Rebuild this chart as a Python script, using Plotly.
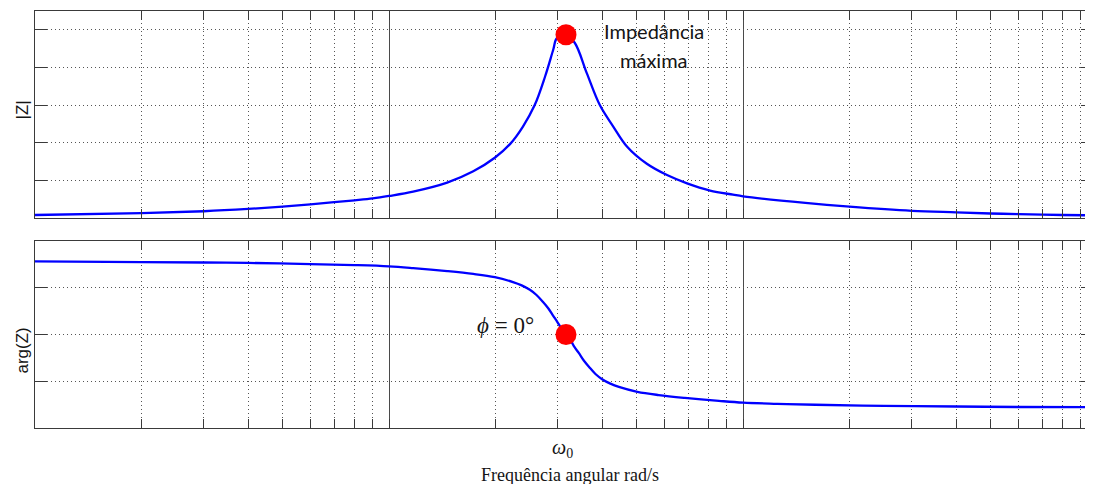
import math
import plotly.graph_objects as go
from plotly.subplots import make_subplots

# ---- data ----
omega_mag = [0.1, 0.2, 0.3, 0.4, 0.5, 0.6, 0.7, 0.8, 0.9, 1.0, 1.17, 1.46, 1.73, 1.99, 2.20, 2.39,
             2.58, 2.76, 2.91, 2.98, 3.162, 3.35, 3.62, 3.94, 4.30, 4.70, 5.35, 6.10, 6.95, 8.07,
             9.37, 10, 15, 20, 30, 40, 50, 60, 80, 100]
mag = [0.08, 0.13, 0.18, 0.24, 0.30, 0.36, 0.42, 0.47, 0.52, 0.585, 0.70, 0.94, 1.24, 1.60, 1.97, 2.43,
       3.0, 3.76, 4.47, 4.78, 4.87, 4.65, 3.85, 3.0, 2.43, 1.90, 1.44, 1.14, 0.92, 0.73,
       0.62, 0.575, 0.40, 0.30, 0.19, 0.15, 0.12, 0.105, 0.08, 0.07]

omega_phase = [0.1, 0.2, 0.3, 0.4, 0.6, 0.8, 1.0, 1.17, 1.46, 1.73, 1.99, 2.24, 2.37, 2.50, 2.61, 2.72,
               2.82, 2.91, 2.99, 3.06, 3.162, 3.27, 3.34, 3.44, 3.55, 3.68, 3.83, 4.0, 4.22, 4.46,
               5.03, 5.78, 6.85, 8.55, 10, 12.5, 16, 25, 40, 60, 100]
phase_deg = [70.3, 69.7, 69.3, 68.9, 67.8, 66.8, 65.6, 63.9, 61.0, 58.3, 55.2, 50.5, 47.3, 43.0, 38.0, 31.5,
             25.0, 18.0, 12.0, 6.5, 0.0, -6.5, -12.0, -18.0, -25.0, -31.5, -38.0, -43.0, -47.3, -50.5,
             -55.2, -58.3, -61.0, -63.9, -65.6, -66.7, -67.6, -68.7, -69.3, -69.8, -70.0]

omega0 = 3.162
mag_max = 4.87
phase_at_omega0 = 0.0

major_x = [0.1, 1, 10, 100]
minor_x = [m * d for d in (0.1, 1, 10) for m in range(2, 10)]
mag_ticks = [0, 1, 2, 3, 4, 5]
phase_ticks = [-45, 0, 45]

# ---- figure ----
fig = make_subplots(rows=2, cols=1, shared_xaxes=False, vertical_spacing=0.05)

line_style = dict(color="#0000FF", width=2.3, shape="spline", smoothing=1.0)
fig.add_trace(go.Scatter(x=omega_mag, y=mag, mode="lines", line=line_style, hoverinfo="skip"), row=1, col=1)
fig.add_trace(go.Scatter(x=[omega0], y=[mag_max], mode="markers",
                         marker=dict(color="#FF0000", size=21), hoverinfo="skip"), row=1, col=1)
fig.add_trace(go.Scatter(x=omega_phase, y=phase_deg, mode="lines", line=line_style, hoverinfo="skip"), row=2, col=1)
fig.add_trace(go.Scatter(x=[omega0], y=[phase_at_omega0], mode="markers",
                         marker=dict(color="#FF0000", size=21), hoverinfo="skip"), row=2, col=1)

axis_col = "#3a3a3a"
grid_col = "#555555"
dots = "1px,3px"
xr = [-1, 2 - 4 / 354]

xcommon = dict(type="log", range=xr, tickvals=major_x, showticklabels=False,
               ticks="inside", ticklen=9, tickcolor=axis_col, showgrid=True,
               gridcolor="#4a4a4a", gridwidth=1, showline=True, linecolor=axis_col,
               linewidth=1, mirror="ticks", zeroline=False,
               minor=dict(tickvals=minor_x, ticks="inside", ticklen=9, tickcolor=axis_col,
                          showgrid=True, gridcolor=grid_col, griddash=dots, gridwidth=1))
fig.update_xaxes(**xcommon)
fig.update_yaxes(showticklabels=False, ticks="inside", ticklen=12, tickcolor=axis_col,
                 showgrid=True, gridcolor=grid_col, griddash=dots, gridwidth=1,
                 showline=True, linecolor=axis_col, linewidth=1, mirror="ticks", zeroline=False)
fig.update_yaxes(range=[0, 5.5], tickvals=mag_ticks, row=1, col=1)
fig.update_yaxes(range=[-90, 90], tickvals=phase_ticks, row=2, col=1)

# page body adds an 8px offset, so the figure is 8px smaller
W, H = 1085, 476
ml, mr, mt, mb = 27, 0, 3, 56
ph = H - mt - mb
fig.update_layout(
    width=W, height=H, margin=dict(l=ml, r=mr, t=mt, b=mb),
    paper_bgcolor="white", plot_bgcolor="white", showlegend=False,
    yaxis=dict(domain=[(H - mb - 210) / ph, 1.0]),
    yaxis2=dict(domain=[0.0, (H - mb - 233) / ph]),
)

txt = "#151515"
lx0 = math.log10(omega0)
fig.add_annotation(x=lx0, y=mag_max, xref="x", yref="y", text="Impedância",
                   showarrow=False, xshift=88, yshift=4, xanchor="center", yanchor="middle",
                   font=dict(family="Lato", size=20, color=txt))
fig.add_annotation(x=lx0, y=mag_max, xref="x", yref="y", text="máxima",
                   showarrow=False, xshift=88, yshift=-25, xanchor="center", yanchor="middle",
                   font=dict(family="Lato", size=20, color=txt))
fig.add_annotation(x=lx0, y=phase_at_omega0, xref="x2", yref="y2", text="<i>ϕ</i> = 0°",
                   showarrow=False, xshift=-60, yshift=9, xanchor="center", yanchor="middle",
                   font=dict(family="Liberation Serif", size=23, color=txt))
fig.add_annotation(x=lx0, y=0, xref="x2", yref="y2 domain", text="<i>ω</i><sub>0</sub>",
                   showarrow=False, xshift=-3, yshift=-20, xanchor="center", yanchor="middle",
                   font=dict(family="Liberation Serif", size=20, color=txt))
fig.add_annotation(x=0.5, y=0, xref="x2 domain", yref="y2 domain", text="Frequência angular rad/s",
                   showarrow=False, xshift=6, yshift=-47, xanchor="center", yanchor="middle",
                   font=dict(family="Liberation Serif", size=18, color=txt))
fig.add_annotation(x=0, y=0.5, xref="paper", yref="y domain", text="|Z|", textangle=-90,
                   showarrow=False, xshift=-13, yshift=4, xanchor="center", yanchor="middle",
                   font=dict(family="Liberation Sans", size=17, color=txt))
fig.add_annotation(x=0, y=0.5, xref="paper", yref="y2 domain", text="arg(Z)", textangle=-90,
                   showarrow=False, xshift=-13, yshift=-16, xanchor="center", yanchor="middle",
                   font=dict(family="Liberation Sans", size=17, color=txt))

fig.write_html("out.html")
